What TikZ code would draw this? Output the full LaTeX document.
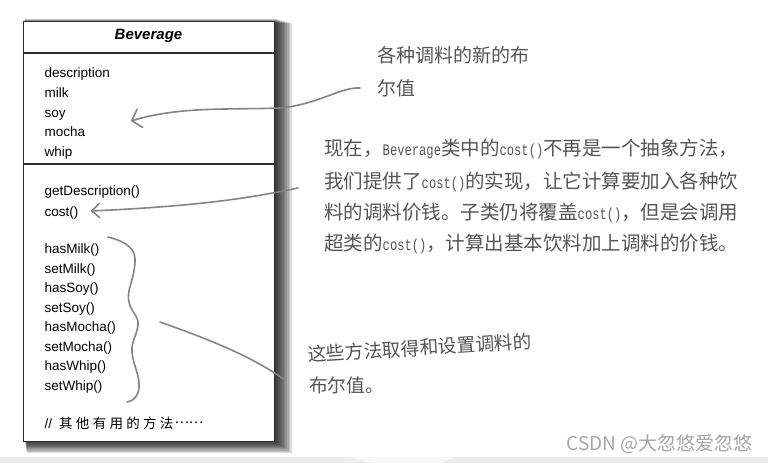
\documentclass[tikz,border=0pt]{standalone}
\usepackage{fontspec}
\usepackage{graphicx}
\setmainfont{Liberation Sans}
\newfontfamily\myCJKFam{Noto Sans CJK SC}
\newfontfamily\myMonoFam{Liberation Mono}
\usetikzlibrary{arrows.meta}
\definecolor{conncol}{HTML}{858585}
\definecolor{boxline}{HTML}{2B2B2B}
\definecolor{notecol}{HTML}{555555}
\definecolor{wmcol}{HTML}{A6A6A6}
\definecolor{bandgray}{HTML}{EDEDED}
\definecolor{bandlight}{HTML}{F7F7F7}
\newcommand\myCJ[1]{{\myCJKFam\fontsize{19.5}{22}\selectfont #1}}
\newcommand\myMO[1]{\scalebox{0.76}[1]{\myMonoFam\fontsize{16}{18}\selectfont #1}}
\tikzset{
  boxtxt/.style={anchor=base west, inner sep=0pt, font=\fontsize{13.5}{16}\selectfont, text=black},
  note/.style={anchor=base west, inner sep=0pt, text=notecol},
  conn/.style={draw=conncol, line width=1.6pt, line cap=round, line join=round},
  umlbox/.style={draw=boxline, line width=1.2pt, fill=white, inner sep=0pt, anchor=north west},
  sepline/.style={draw=boxline, line width=1.2pt},
}
\begin{document}
\begin{tikzpicture}[x=1pt,y=-1pt]
\useasboundingbox (0,0) rectangle (768,463);
\fill[white] (0,0) rectangle (768,463);
% bottom band
\fill[bandgray] (0,457) rectangle (768,463);
\fill[bandlight] (350,457) -- (453,457) -- (443,463) -- (372,463) -- cycle;
% shadow
\foreach \i in {1,...,10}
  \fill[black, opacity=0.13] ({24+0.3*\i},{18+0.5*\i}) rectangle ({275+1.7*\i},{441+1.2*\i});
% class box
\node[umlbox, minimum width=251pt, minimum height=420pt] (box) at (23,21) {};
\coordinate (s1) at (23,53);
\coordinate (s2) at (23,164);
\draw[sepline] (s1) -- (s1 -| box.east);
\draw[sepline] (s2) -- (s2 -| box.east);
\node[anchor=base, inner sep=0pt, font=\fontsize{15}{18}\selectfont\bfseries\itshape] (title) at (148.5,39.5) {Beverage};
% attributes
\node[boxtxt] (a1) at (44.5,77) {description};
\node[boxtxt] (a2) at (44.5,97) {milk};
\node[boxtxt] (a3) at (44.5,117) {soy};
\node[boxtxt] (a4) at (44.5,136) {mocha};
\node[boxtxt] (a5) at (44.5,156) {whip};
% methods
\node[boxtxt] (m1) at (44.5,195) {getDescription()};
\node[boxtxt] (m2) at (44.5,216) {cost()};
\node[boxtxt] (m3) at (44.5,253.5) {hasMilk()};
\node[boxtxt] (m4) at (44.5,273) {setMilk()};
\node[boxtxt] (m5) at (44.5,292.5) {hasSoy()};
\node[boxtxt] (m6) at (44.5,312) {setSoy()};
\node[boxtxt] (m7) at (44.5,331.5) {hasMocha()};
\node[boxtxt] (m8) at (44.5,351) {setMocha()};
\node[boxtxt] (m9) at (44.5,370.5) {hasWhip()};
\node[boxtxt] (m10) at (44.5,390) {setWhip()};
\node[boxtxt] (other) at (44.5,428) {//\hspace{7pt}{\myCJKFam 其\kern3.3pt 他\kern3.3pt 有\kern3.3pt 用\kern3.3pt 的\kern3.3pt 方\kern3.3pt 法\kern1pt \raisebox{4.5pt}{……}}};
% annotations
\node[note, font=\myCJKFam\fontsize{19}{22}\selectfont] (n1a) at (377,62.2) {各种调料的新的布};
\node[note, font=\myCJKFam\fontsize{19}{22}\selectfont] (n1b) at (377,95.2) {尔值};
\node[note] (p1) at (324,155.4) {\myCJ{现在，}\myMO{Beverage}\myCJ{类中的}\myMO{cost()}\myCJ{不再是一个抽象方法，}};
\node[note] (p2) at (324,188) {\myCJ{我们提供了}\myMO{cost()}\myCJ{的实现，让它计算要加入各种饮}};
\node[note] (p3) at (324,219.4) {\myCJ{料的调料价钱。子类仍将覆盖}\myMO{cost()}\myCJ{，但是会调用}};
\node[note] (p4) at (324,250.4) {\myCJ{超类的}\myMO{cost()}\myCJ{，计算出基本饮料加上调料的价钱。}};
\node[note, rotate=3.6, font=\myCJKFam\fontsize{18.7}{22}\selectfont] (n3a) at (308,362) {这些方法取得和设置调料的};
\node[note, font=\myCJKFam\fontsize{18.7}{22}\selectfont] (n3b) at (309,392) {布尔值。};
\node[anchor=base east, inner sep=0pt, text=wmcol, font=\myCJKFam\fontsize{19}{22}\selectfont] (wm) at (753,450) {CSDN @大忽悠爱忽悠};
% connectors
\coordinate (c1s) at (360,88);
\coordinate (c1t) at (131,121);
\draw[conn, -{Straight Barb[length=8.5pt,width=19pt,round]}] (c1s) .. controls (340,87) and (320,104) .. (280,108) .. controls (230,110) and (180,106) .. (c1t);
\coordinate (c2s) at (298,188);
\coordinate (c2t) at (91,211);
\draw[conn, -{Straight Barb[length=7.5pt,width=14pt,round]}] (c2s) .. controls (250,198) and (200,206) .. (c2t);
\coordinate (b0) at (108,237);
\coordinate (b1) at (127,402);
\draw[conn] (b0) .. controls (128,242) and (136,250) .. (135,262)
  .. controls (134,280) and (126,292) .. (129,302)
  .. controls (131,312) and (139,316) .. (138,325)
  .. controls (137,335) and (131,342) .. (132,352)
  .. controls (133,365) and (140,375) .. (139,388)
  .. controls (138,396) and (134,401) .. (b1);
\coordinate (c3s) at (160,322);
\coordinate (c3t) at (285,380);
\draw[conn] (c3s) .. controls (205,338) and (250,355) .. (c3t);
\end{tikzpicture}
\end{document}
